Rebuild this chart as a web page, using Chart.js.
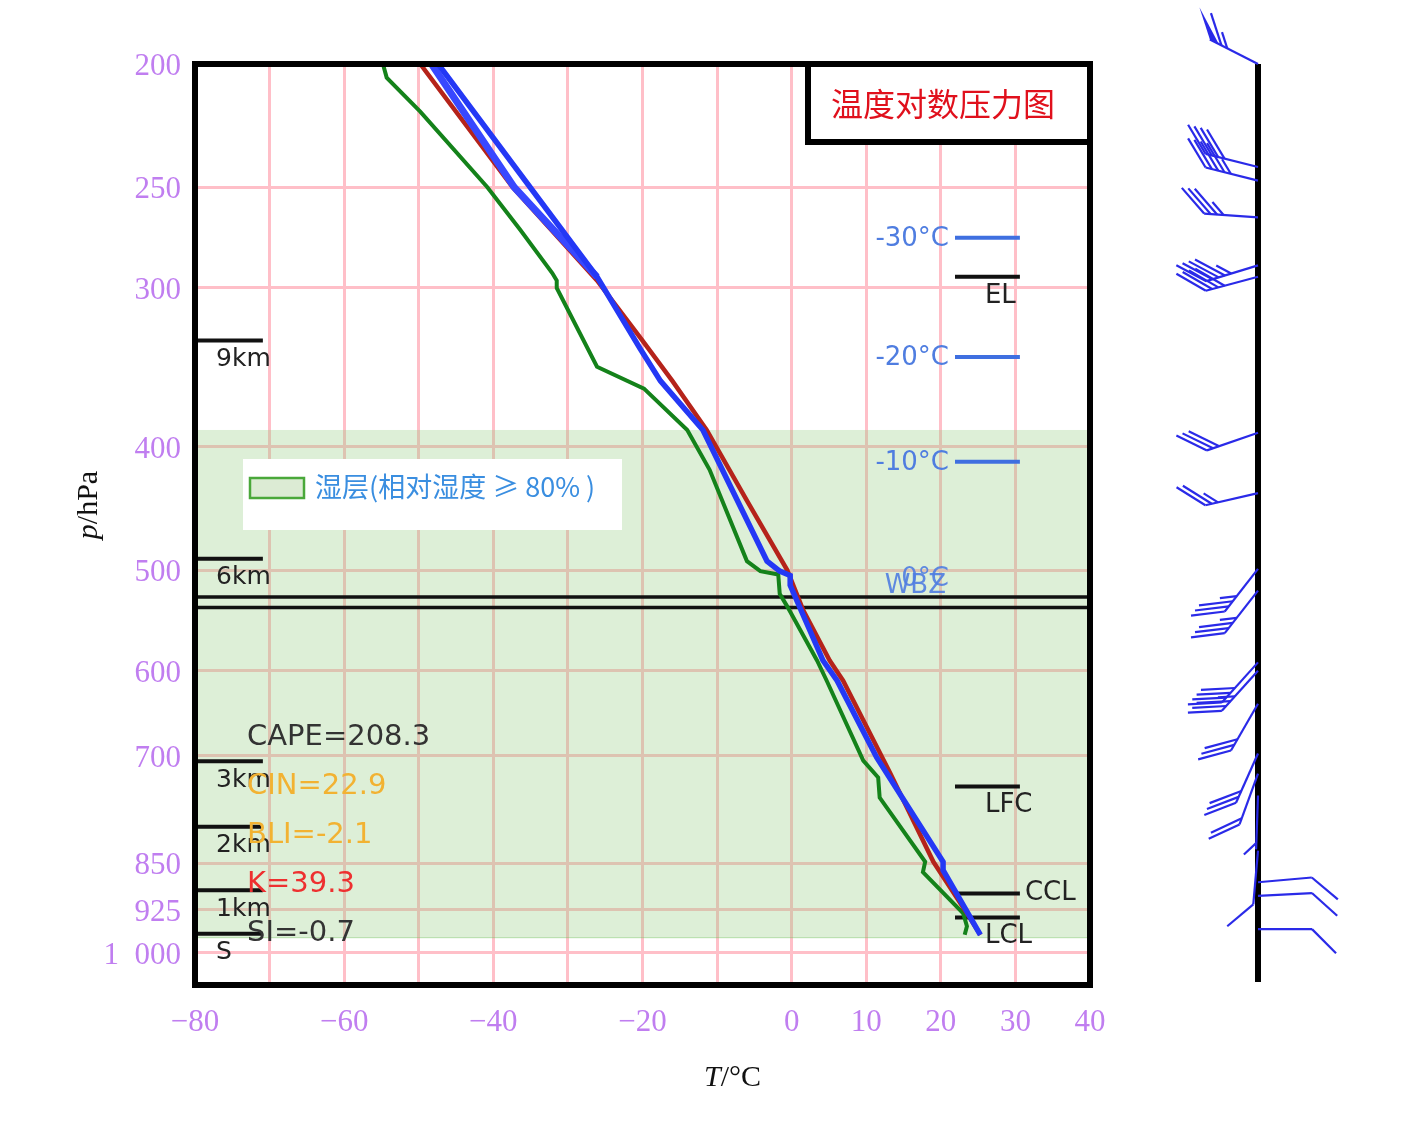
<!DOCTYPE html>
<html><head><meta charset="utf-8">
<script src="https://cdn.jsdelivr.net/npm/chart.js@4.4.1/dist/chart.umd.min.js"></script>
<style>html,body{margin:0;padding:0;background:#fff}canvas{display:block}</style>
</head><body>
<canvas id="c" width="1413" height="1143"></canvas>
<script>
// ---------- data ----------
const yTickValues = [200, 250, 300, 400, 500, 600, 700, 850, 925, 1000];
const xTickLabels = [-80, -60, -40, -20, 0, 10, 20, 30, 40];

// dew point (green)
const dewT = [-54.8,-54.3,-49.8,-40.8,-36.4,-32.1,-31.5,-31.5,-26.1,-19.8,-14.0,-11.0,-6.0,-4.2,-1.8,-1.6,-0.6,3.4,4.7,9.6,11.6,11.8,17.9,17.6,23.0,23.5,23.2];
const dewP = [200,205,218,250,270,292,296,300,346,360,388,417,492,501,504,522,534,589,611,706,728,755,848,864,931,953,968];
// temperature (red)
const tmpT = [-49.8,-37.4,-26.1,-20.0,-16.0,-11.4,-6.0,-0.6,1.5,5.1,6.9,13.2,19.0,23.5,25.3];
const tmpP = [200,250,296,330,355,388,441,500,537,589,611,722,848,931,968];
// parcel (blue, thick)
const parT = [-47.4,-26.1,-20.3,-17.6,-11.9,-3.3,-1.6,-0.2,-0.2,4.2,6.1,11.4,20.3,20.3,25.3];
const parP = [200,294,335,355,388,492,501,505,514,589,611,702,848,861,968];
// second blue trace (upper part)
const par2T = [-48.3,-37.2,-26.1];
const par2P = [200,250,294];

// levels marked on the right
const isoNames = ['-30°C','-20°C','-10°C'];
const isoP = [274, 340, 411];
const zeroP = 525, wbzP = 535;
const lvlNames = ['EL','LFC','CCL','LCL'];
const lvlP = [294, 740, 898, 938];
// height marks on the left
const hNames = ['9km','6km','3km','2km','1km','S'];
const hP = [330, 490, 707, 796, 893, 966];
// wet layer
const wetTop = 388, wetBottom = 973;
// indices
const idxNames = ['CAPE=208.3','CIN=22.9','BLI=-2.1','K=39.3','SI=-0.7'];
const idxColors = ['#333333','#f2b232','#f2b232','#ee3030','#333333'];
const idxP = [677, 740, 808, 884, 966];
// winds
const windP   = [200,241,247,264,288,294,390,435,499,519,591,600,637,697,723,752,831,880,902,958];
const windDir = [297,284,284,274,253,255,251,257,218,218,222,222,210,204,200,182,185,85,87,90];
const windSpd = [26,16,18,14,18,16,12,10,14,14,16,14,12,12,8,2,4,4,4,4];

// ---------- helpers ----------
const pts = (T, P) => T.map((t, i) => ({x: t, y: P[i]}));
const seg = (t0, t1, p) => [{x: t0, y: p}, {x: t1, y: p}];
const markT0 = 21.9, markT1 = 30.6, hT0 = -80, hT1 = -70.9;

const datasets = [
  {data: pts(parT, parP), borderColor: '#2438f5', borderWidth: 5.5, order: 1},
  {data: pts(par2T, par2P), borderColor: '#3848ff', borderWidth: 7, order: 1},
  {data: pts(tmpT, tmpP), borderColor: '#b5231a', borderWidth: 4.5, order: 2},
  {data: pts(dewT, dewP), borderColor: '#14821a', borderWidth: 4, order: 3},
];
isoP.forEach(p => datasets.push({data: seg(markT0, markT1, p), borderColor: '#3f6fe0', borderWidth: 4, order: 6}));
datasets.push({data: seg(markT0, markT1, zeroP), borderColor: '#5a7fe0', borderWidth: 2, order: 7});
[zeroP, wbzP].forEach(p => datasets.push({data: seg(-80, 40, p), borderColor: '#111', borderWidth: 3.5, order: 5}));
lvlP.forEach(p => datasets.push({data: seg(markT0, markT1, p), borderColor: '#111', borderWidth: 4, order: 6}));
hP.forEach(p => datasets.push({data: seg(hT0, hT1, p), borderColor: '#111', borderWidth: 4, order: 6}));
datasets.forEach(d => { d.showLine = true; d.pointRadius = 0; d.fill = false; d.tension = 0; });

const SERIF = '"Liberation Serif", "DejaVu Serif", serif';
const SANS = '"DejaVu Sans", "Open Sans", sans-serif';
const CJK = '"Noto Sans CJK SC", sans-serif';

function drawBarb(ctx, x0, y0, dirDeg, spd) {
  const r = dirDeg * Math.PI / 180;
  const dx = Math.sin(r), dy = -Math.cos(r);
  const px = -dy, py = dx;
  let bx = px + dx, by = py + dy;
  const n = Math.hypot(bx, by); bx /= n; by /= n;
  const L = 54, BL = 34, SP = 6.5, PW = 10;
  const at = s => [x0 + dx * s, y0 + dy * s];
  ctx.strokeStyle = '#2a2ae8'; ctx.fillStyle = '#2a2ae8'; ctx.lineWidth = 2.2;
  ctx.beginPath(); ctx.moveTo(x0, y0); ctx.lineTo(...at(L)); ctx.stroke();
  let rem = spd, s = L;
  const pen = Math.floor(rem / 20); rem -= pen * 20;
  const full = Math.floor(rem / 4); rem -= full * 4;
  const half = rem >= 2 ? 1 : 0;
  for (let i = 0; i < pen; i++) {
    const a = at(s), b = at(s - PW);
    ctx.beginPath(); ctx.moveTo(...a); ctx.lineTo(a[0] + bx * BL, a[1] + by * BL); ctx.lineTo(...b); ctx.closePath(); ctx.fill();
    s -= PW + 3;
  }
  for (let i = 0; i < full; i++) {
    const a = at(s);
    ctx.beginPath(); ctx.moveTo(...a); ctx.lineTo(a[0] + bx * BL, a[1] + by * BL); ctx.stroke();
    s -= SP;
  }
  if (half) {
    if (pen + full === 0) s -= SP;
    const a = at(s);
    ctx.beginPath(); ctx.moveTo(...a); ctx.lineTo(a[0] + bx * BL / 2, a[1] + by * BL / 2); ctx.stroke();
  }
}

const deco = {
  id: 'deco',
  beforeDatasetsDraw(chart) {
    const {ctx, chartArea: ca, scales: {x, y}} = chart;
    ctx.save();
    const y0 = y.getPixelForValue(wetTop), y1 = y.getPixelForValue(wetBottom);
    ctx.fillStyle = 'rgba(150,205,130,0.32)';
    ctx.fillRect(ca.left, y0, ca.right - ca.left, y1 - y0);
    ctx.strokeStyle = 'rgba(110,190,90,0.45)'; ctx.lineWidth = 1;
    ctx.beginPath(); ctx.moveTo(ca.left, y1); ctx.lineTo(ca.right, y1); ctx.stroke();
    ctx.restore();
  },
  afterDatasetsDraw(chart) {
    const {ctx, chartArea: ca, scales: {x, y}} = chart;
    ctx.save();
    // legend box
    const lx = ca.left + 48, ly = ca.top + 395;
    ctx.fillStyle = '#fff'; ctx.fillRect(lx, ly, 379, 71);
    ctx.fillStyle = '#dcebd4'; ctx.fillRect(lx + 7, ly + 19, 54, 20);
    ctx.strokeStyle = '#4aa83a'; ctx.lineWidth = 2.5; ctx.strokeRect(lx + 7, ly + 19, 54, 20);
    ctx.fillStyle = '#3a8ee0'; ctx.font = '27px ' + CJK; ctx.textBaseline = 'middle'; ctx.textAlign = 'left';
    ctx.fillText('湿层(相对湿度 ≥ 80% )', lx + 72, ly + 28);

    // isotherm labels
    ctx.font = '26px ' + SANS; ctx.textAlign = 'right'; ctx.fillStyle = '#4f7de0';
    const xl = x.getPixelForValue(markT0) - 6;
    isoNames.forEach((t, i) => ctx.fillText(t, xl, y.getPixelForValue(isoP[i]) + 1));
    ctx.fillStyle = 'rgba(80,125,225,0.9)';
    ctx.fillText('0°C', xl, y.getPixelForValue(zeroP) - 18);
    ctx.fillText('WBZ', xl - 3, y.getPixelForValue(zeroP) - 11);

    // level labels
    ctx.fillStyle = '#222'; ctx.textAlign = 'left';
    const xr = x.getPixelForValue(markT1);
    lvlNames.forEach((t, i) => {
      const py = y.getPixelForValue(lvlP[i]);
      if (t === 'CCL') ctx.fillText(t, xr + 5, py);
      else ctx.fillText(t, xr - 35, py + 19);
    });
    // heights
    ctx.font = '25px ' + SANS;
    hNames.forEach((t, i) => ctx.fillText(t, ca.left + 21, y.getPixelForValue(hP[i]) + 19));
    // indices
    ctx.font = '29px ' + SANS;
    idxNames.forEach((t, i) => { ctx.fillStyle = idxColors[i]; ctx.fillText(t, ca.left + 52, y.getPixelForValue(idxP[i])); });

    // title box
    ctx.fillStyle = '#fff'; ctx.fillRect(ca.left + 612, ca.top, ca.right - ca.left - 612, 78);
    ctx.strokeStyle = '#000'; ctx.lineWidth = 6;
    ctx.beginPath(); ctx.moveTo(ca.left + 613, ca.top); ctx.lineTo(ca.left + 613, ca.top + 78); ctx.lineTo(ca.right, ca.top + 78); ctx.stroke();
    ctx.fillStyle = '#e0101c'; ctx.font = '32px ' + CJK; ctx.textAlign = 'center';
    ctx.fillText('温度对数压力图', ca.left + 748, ca.top + 40);

    // frame
    ctx.strokeStyle = '#000'; ctx.lineWidth = 6;
    ctx.strokeRect(ca.left, ca.top, ca.right - ca.left, ca.bottom - ca.top);

    // axis titles
    ctx.fillStyle = '#111'; ctx.textBaseline = 'alphabetic';
    ctx.font = 'italic 30px ' + SERIF;
    const tw = ctx.measureText('T').width;
    ctx.font = '30px ' + SERIF;
    const rw = ctx.measureText('/°C').width;
    let sx = (ca.left + ca.right) / 2 + 90 - (tw + rw) / 2;
    ctx.textAlign = 'left';
    ctx.font = 'italic 30px ' + SERIF; ctx.fillText('T', sx, 1086);
    ctx.font = '30px ' + SERIF; ctx.fillText('/°C', sx + tw, 1086);
    ctx.save();
    ctx.translate(97, 505); ctx.rotate(-Math.PI / 2);
    ctx.font = 'italic 30px ' + SERIF; const pw = ctx.measureText('p').width;
    ctx.font = '30px ' + SERIF; const hw = ctx.measureText('/hPa').width;
    ctx.font = 'italic 30px ' + SERIF; ctx.fillText('p', -(pw + hw) / 2, 0);
    ctx.font = '30px ' + SERIF; ctx.fillText('/hPa', -(pw + hw) / 2 + pw, 0);
    ctx.restore();

    // wind profile
    const sxw = ca.right + 168;
    ctx.strokeStyle = '#000'; ctx.lineWidth = 6;
    ctx.beginPath(); ctx.moveTo(sxw, ca.top); ctx.lineTo(sxw, ca.bottom - 3); ctx.stroke();
    windP.forEach((p, i) => drawBarb(ctx, sxw, y.getPixelForValue(p), windDir[i], windSpd[i]));
    ctx.restore();
  }
};

new Chart(document.getElementById('c'), {
  type: 'scatter',
  data: {datasets},
  options: {
    responsive: false, animation: false, devicePixelRatio: 1,
    layout: {padding: {top: 64, right: 323, left: 0, bottom: 0}},
    plugins: {legend: {display: false}, tooltip: {enabled: false}},
    scales: {
      x: {
        type: 'linear', min: -80, max: 40,
        afterFit: s => { s.height = 1143 - 985 - 0; },
        ticks: {
          stepSize: 10, padding: 19, color: '#c07ef0', font: {family: SERIF, size: 31},
          callback: v => xTickLabels.includes(v) ? String(v).replace('-', '\u2212') : ''
        },
        grid: {color: '#ffbfc8', lineWidth: 3, drawTicks: false},
        border: {display: false}
      },
      y: {
        type: 'logarithmic', min: 200, max: 1060, reverse: true,
        afterFit: s => { s.width = 195; },
        afterBuildTicks: s => { s.ticks = yTickValues.map(v => ({value: v})); },
        ticks: {
          padding: 14, labelOffset: 3, color: '#c07ef0', font: {family: SERIF, size: 31}, autoSkip: false,
          callback: v => v === 1000 ? '1\u2002000' : String(v)
        },
        grid: {color: '#ffbfc8', lineWidth: 3, drawTicks: false},
        border: {display: false}
      }
    }
  },
  plugins: [deco]
});
</script>
</body></html>
